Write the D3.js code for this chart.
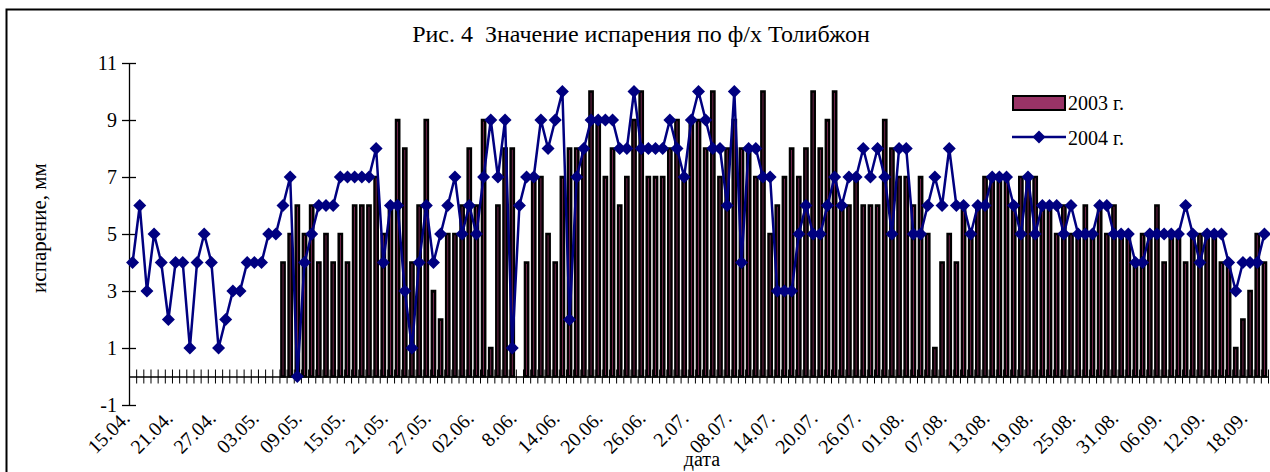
<!DOCTYPE html>
<html>

<head>
  <title>Рис. 4 Значение испарения по ф/х Толибжон</title>
  <meta charset="UTF-8" />
  <script src="https://cdn.jsdelivr.net/npm/d3@7"></script>
</head>

<style>
  body {
    margin: 0;
    background: white;
    font-family: 'Liberation Serif', 'Times New Roman', serif;
  }

  svg text {
    fill: black;
    white-space: pre;
  }
</style>

<body>
  <svg></svg>
  <script>
    // daily values, 15.04 .. 20.09 (null = no data)
    let evap2003 = [
      null, null, null, null, null, null, null, null, null, null, null, null, null, null, null, null, null, null, null, null, null,
      4, 5, 6, 5, 6, 4, 5, 4, 5, 4, 6,
      6, 6, 7, 5, 6, 9, 8, 4, 6, 9, 3, 2, 5, 5, 6, 8, 6, 9, 1, 6, 8, 8, null, 4, 7, 7, 5, 4, 7, 8, 8, 8, 10,
      9, 7, 8, 6, 7, 9, 10, 7, 7, 7, 8, 9, 7, 9, 9, 8, 10, 7, 8, 9, 8, 8, 7, 10, 5, 6, 7, 8, 7, 8, 10, 8,
      9, 10, 6, 6, 7, 6, 6, 6, 9, 8, 7, 7, 6, 7, 5, 1, 4, 5, 4, 6, 5, 6, 7, 7, 7, 7, 6, 7, 7, 7, 6,
      6, 5, 6, 5, 5, 6, 5, 6, 5, 6, 5, 5, 4, 5, 5, 6, 4, 5, 5, 4, 5, 5, 5, 5, 4, 4, 1, 2, 3, 5, 4
    ];

    let evap2004 = [
      4, 6, 3, 5, 4, 2, 4, 4, 1, 4, 5, 4, 1, 2, 3, 3, 4, 4, 4, 5, 5, 6, 7, 0, 4, 5, 6, 6, 6, 7, 7, 7,
      7, 7, 8, 4, 6, 6, 3, 1, 4, 6, 4, 5, 6, 7, 5, 6, 5, 7, 9, 7, 9, 1, 6, 7, 7, 9, 8, 9, 10, 2, 7, 8, 9,
      9, 9, 9, 8, 8, 10, 8, 8, 8, 8, 9, 8, 7, 9, 10, 9, 8, 8, 6, 10, 4, 8, 8, 7, 7, 3, 3, 3, 5, 6, 5,
      5, 6, 7, 6, 7, 7, 8, 7, 8, 7, 5, 8, 8, 5, 5, 6, 7, 6, 8, 6, 6, 5, 6, 6, 7, 7, 7, 6, 5, 7, 5, 6, 6,
      6, 5, 6, 5, 5, 5, 6, 6, 5, 5, 5, 4, 4, 5, 5, 5, 5, 5, 6, 5, 4, 5, 5, 5, 4, 3, 4, 4, 4, 5
    ];

    // a label every 6th day
    let tickLabels = ['15.04.', '21.04.', '27.04.', '03.05.', '09.05.', '15.05.', '21.05.', '27.05.',
      '02.06.', '8.06.', '14.06.', '20.06.', '26.06.', '2.07.', '08.07.', '14.07.', '20.07.',
      '26.07.', '01.08.', '07.08.', '13.08.', '19.08.', '25.08.', '31.08.', '06.09.', '12.09.', '18.09.'];
    let labelStep = 6;

    let yTicks = [-1, 1, 3, 5, 7, 9, 11];
    let seriesNames = ['2003 г.', '2004 г.'];

    let width = 1270,
      height = 472;

    let svg = d3.select('svg').attr('width', width).attr('height', height);

    // chart frame
    svg.append('rect')
      .attr('x', 6.5).attr('y', 9.5)
      .attr('width', 1290).attr('height', 480)
      .attr('fill', 'white').attr('stroke', 'black').attr('stroke-width', 2);

    let n = evap2004.length;
    let x = d3.scaleBand().domain(d3.range(n)).range([129, 1268]);
    let xEdge = d3.scaleLinear().domain([0, n]).range([129, 1268]);
    let y = d3.scaleLinear().domain([-1, 11]).range([405, 63]);

    // bars 2003
    let barW = x.bandwidth() * 0.45;
    svg.append('g')
      .selectAll('rect')
      .data(evap2003.map((v, i) => ({ i: i, v: v })).filter(d => d.v != null))
      .enter()
      .append('rect')
      .attr('x', d => x(d.i) + (x.bandwidth() - barW) / 2)
      .attr('y', d => y(d.v))
      .attr('width', barW)
      .attr('height', d => y(0) - y(d.v))
      .attr('fill', '#993366')
      .attr('stroke', 'black')
      .attr('stroke-width', 2.5);

    // y axis with crossing ticks
    let yAxis = svg.append('g')
      .attr('transform', 'translate(129,0)')
      .call(d3.axisLeft(y).tickValues(yTicks).tickFormat(d => String(d))
        .tickSizeInner(7).tickSizeOuter(0).tickPadding(5));
    yAxis.select('.domain').attr('stroke', 'black').attr('stroke-width', 1.3);
    yAxis.selectAll('.tick line').attr('x2', 7).attr('x1', -7).attr('stroke-width', 1.3);
    yAxis.selectAll('.tick text')
      .attr('font-family', "'Liberation Serif', serif")
      .attr('font-size', 20);

    // category axis on zero line
    let xAxis = svg.append('g')
      .attr('transform', 'translate(0,' + y(0) + ')')
      .call(d3.axisBottom(xEdge).tickValues(d3.range(n + 1)).tickSizeInner(7).tickSizeOuter(0).tickFormat(''));
    xAxis.select('.domain').attr('stroke', 'black').attr('stroke-width', 1.3);
    xAxis.selectAll('.tick line').attr('y1', -7).attr('stroke-width', 1);

    // date labels below plot
    svg.append('g')
      .selectAll('text')
      .data(tickLabels)
      .enter()
      .append('text')
      .attr('transform', (d, k) => {
        let cx = x(k * labelStep) + x.bandwidth() / 2;
        return 'translate(' + (cx - 10) + ',' + 411 + ') rotate(-45)';
      })
      .attr('text-anchor', 'end')
      .attr('dy', '0.6em')
      .attr('font-size', 20)
      .text(d => d);

    // line 2004
    let line = d3.line()
      .x((d, i) => x(i) + x.bandwidth() / 2)
      .y(d => y(d));

    svg.append('path')
      .datum(evap2004)
      .attr('d', line)
      .attr('fill', 'none')
      .attr('stroke', '#000080')
      .attr('stroke-width', 2.5);

    let diamond = 'M0,-6.5L6.5,0L0,6.5L-6.5,0Z';
    svg.append('g')
      .selectAll('path')
      .data(evap2004)
      .enter()
      .append('path')
      .attr('d', diamond)
      .attr('transform', (d, i) => 'translate(' + (x(i) + x.bandwidth() / 2) + ',' + y(d) + ')')
      .attr('fill', '#000080');

    // title and axis names
    svg.append('text')
      .attr('x', 641).attr('y', 42)
      .attr('text-anchor', 'middle')
      .attr('font-size', 24)
      .text('Рис. 4  Значение испарения по ф/х Толибжон');

    svg.append('text')
      .attr('transform', 'translate(46,228) rotate(-90)')
      .attr('text-anchor', 'middle')
      .attr('font-size', 21)
      .text('испарение, мм');

    svg.append('text')
      .attr('x', 702).attr('y', 466)
      .attr('text-anchor', 'middle')
      .attr('font-size', 20)
      .text('дата');

    // legend
    let legend = svg.append('g');
    legend.append('rect')
      .attr('x', 1013).attr('y', 96)
      .attr('width', 52).attr('height', 14)
      .attr('fill', '#993366').attr('stroke', 'black').attr('stroke-width', 2);
    legend.append('line')
      .attr('x1', 1012).attr('x2', 1066)
      .attr('y1', 137).attr('y2', 137)
      .attr('stroke', '#000080').attr('stroke-width', 2.5);
    legend.append('path')
      .attr('d', diamond)
      .attr('transform', 'translate(1039,137)')
      .attr('fill', '#000080');
    legend.selectAll('text')
      .data(seriesNames)
      .enter()
      .append('text')
      .attr('x', 1068)
      .attr('y', (d, i) => 110 + i * 35)
      .attr('font-size', 20)
      .text(d => d);
  </script>
</body>

</html>
